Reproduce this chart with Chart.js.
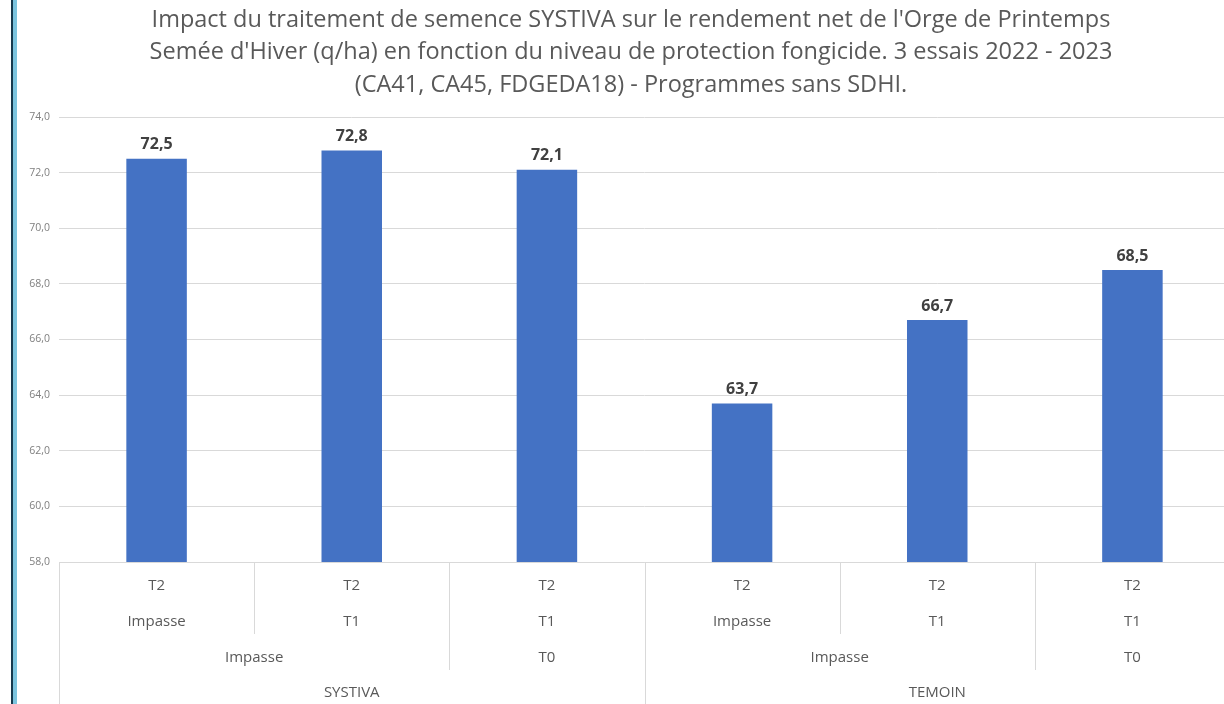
<!DOCTYPE html>
<html lang="fr">
<head>
<meta charset="utf-8">
<title>Orge de Printemps - SYSTIVA</title>
<script src="https://cdn.jsdelivr.net/npm/chart.js@4.4.1/dist/chart.umd.min.js"></script>
<style>
  html, body { margin: 0; padding: 0; background: #fff; overflow: hidden; }
  body { width: 1224px; height: 704px; position: relative; }
  .edge-dark { position: absolute; left: 11px; top: 0; width: 2px; height: 704px; background: #173a4e; }
  .edge-light { position: absolute; left: 13px; top: 0; width: 4px; height: 704px; background: #7cc4de; }
  .chart-box { position: absolute; left: 18px; top: 0; width: 1226px; height: 704px; }
</style>
</head>
<body>
<div class="edge-dark"></div>
<div class="edge-light"></div>
<div class="chart-box"><canvas id="yieldChart"></canvas></div>
<script>
// rendement net (q/ha)
const values = [72.5, 72.8, 72.1, 63.7, 66.7, 68.5];

// axe des catégories, du niveau le plus fin au plus large
const level1 = ["T2", "T2", "T2", "T2", "T2", "T2"];
const level2 = ["Impasse", "T1", "T1", "Impasse", "T1", "T1"];
const level3Labels = ["Impasse", "T0", "Impasse", "T0"];
const level3Spans = [2, 1, 2, 1];
const level4Labels = ["SYSTIVA", "TEMOIN"];
const level4Spans = [3, 3];

const yTicks = [58, 60, 62, 64, 66, 68, 70, 72, 74];

const titleLines = [
  "Impact du traitement de semence SYSTIVA sur le rendement net de l'Orge de Printemps",
  "Semée d'Hiver (q/ha) en fonction du niveau de protection fongicide. 3 essais 2022 - 2023",
  "(CA41, CA45, FDGEDA18) - Programmes sans SDHI.",
];

const FONT = "'Open Sans', 'Noto Sans', sans-serif";
const fmt = (v) => v.toFixed(1).replace(".", ",");

// end positions of the spanned groups, e.g. [2,1,2,1] -> 2,3,5,6
function spanBoundaries(spans) {
  const out = [];
  let acc = 0;
  spans.forEach((s) => {
    acc += s;
    out.push(acc);
  });
  return out;
}

// title centred on the whole canvas (the built-in one centres on the plot boxes)
const chartTitle = {
  id: "chartTitle",
  afterDraw(chart) {
    const { ctx } = chart;
    ctx.save();
    ctx.font = `23.5px ${FONT}`;
    ctx.fillStyle = "#595959";
    ctx.textAlign = "center";
    ctx.textBaseline = "middle";
    titleLines.forEach((line, i) => {
      ctx.fillText(line, chart.width / 2, 20 + i * 32.5);
    });
    ctx.restore();
  },
};

// draws the value above each bar
const barValues = {
  id: "barValues",
  afterDatasetsDraw(chart) {
    const { ctx } = chart;
    const meta = chart.getDatasetMeta(0);
    ctx.save();
    ctx.font = `bold 16px ${FONT}`;
    ctx.fillStyle = "#404040";
    ctx.textAlign = "center";
    ctx.textBaseline = "bottom";
    meta.data.forEach((bar, i) => {
      ctx.fillText(fmt(values[i]), bar.x, bar.y - 6);
    });
    ctx.restore();
  },
};

// multi-level category axis like in Excel
const multiLevelAxis = {
  id: "multiLevelAxis",
  afterDraw(chart) {
    const { ctx, chartArea } = chart;
    const x = chart.scales.x;
    const n = level1.length;
    const w = (chartArea.right - chartArea.left) / n;
    const left = chartArea.left;
    const bottom = chartArea.bottom;
    const rowY = [bottom + 24, bottom + 60, bottom + 96, bottom + 131];
    const rowEnd = [rowY[0] + 12, rowY[1] + 12, rowY[2] + 12, chart.height];

    ctx.save();
    ctx.strokeStyle = "#d9d9d9";
    ctx.lineWidth = 1;

    // axis line
    ctx.beginPath();
    ctx.moveTo(left, bottom + 0.5);
    ctx.lineTo(chartArea.right, bottom + 0.5);
    ctx.stroke();

    // separators: depth depends on the widest level that changes there
    const b3 = spanBoundaries(level3Spans);
    const b4 = spanBoundaries(level4Spans);
    for (let i = 0; i <= n; i++) {
      let depth = 1;
      if (i === 0 || i === n || b4.includes(i)) depth = 3;
      else if (b3.includes(i)) depth = 2;
      const px = Math.round(left + i * w) + 0.5;
      ctx.beginPath();
      ctx.moveTo(px, bottom);
      ctx.lineTo(px, rowEnd[depth]);
      ctx.stroke();
    }

    ctx.fillStyle = "#595959";
    ctx.font = `15px ${FONT}`;
    ctx.textAlign = "center";
    ctx.textBaseline = "middle";

    level1.forEach((lab, i) => ctx.fillText(lab, x.getPixelForValue(i), rowY[0]));
    level2.forEach((lab, i) => ctx.fillText(lab, x.getPixelForValue(i), rowY[1]));

    let start = 0;
    level3Labels.forEach((lab, k) => {
      const cx = left + (start + level3Spans[k] / 2) * w;
      ctx.fillText(lab, cx, rowY[2]);
      start += level3Spans[k];
    });
    start = 0;
    level4Labels.forEach((lab, k) => {
      const cx = left + (start + level4Spans[k] / 2) * w;
      ctx.fillText(lab, cx, rowY[3]);
      start += level4Spans[k];
    });
    ctx.restore();
  },
};

const ctx = document.getElementById("yieldChart");

new Chart(ctx, {
  type: "bar",
  data: {
    labels: level1.map((l, i) => `${l} ${level2[i]}`),
    datasets: [
      {
        data: values,
        backgroundColor: "#4472c4",
        borderWidth: 0,
        barPercentage: 0.31,
        categoryPercentage: 1,
      },
    ],
  },
  options: {
    responsive: true,
    maintainAspectRatio: false,
    animation: false,
    layout: {
      padding: { top: 117, right: 14, bottom: 142, left: 0 },
    },
    plugins: {
      legend: { display: false },
      tooltip: { enabled: false },
      title: { display: false },
    },
    scales: {
      x: {
        display: false,
        grid: { display: false },
      },
      y: {
        min: 58,
        max: 74,
        afterBuildTicks: (scale) => {
          scale.ticks = yTicks.map((v) => ({ value: v }));
        },
        afterFit: (scale) => {
          scale.width = 41;
        },
        border: { display: false },
        grid: { color: "#d9d9d9", drawTicks: false },
        ticks: {
          padding: 9,
          color: "#7f7f7f",
          font: { family: FONT, size: 10.5 },
          callback: (v) => fmt(v),
        },
      },
    },
  },
  plugins: [chartTitle, barValues, multiLevelAxis],
});
</script>
</body>
</html>
